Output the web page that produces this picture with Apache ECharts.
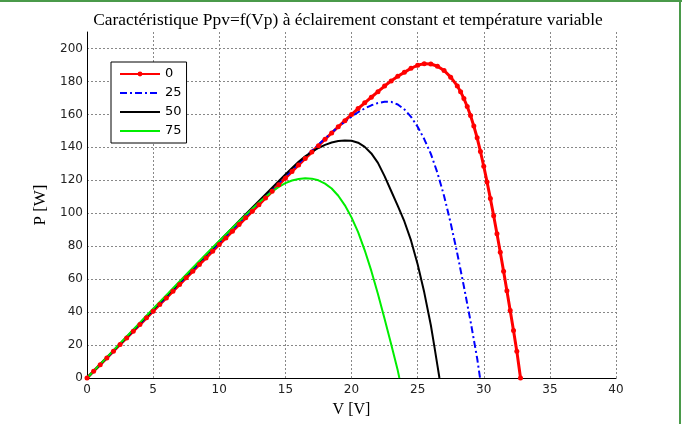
<!DOCTYPE html>
<html>
<head>
<meta charset="utf-8">
<script src="https://cdn.jsdelivr.net/npm/echarts@6/dist/echarts.min.js"></script>
<style>
  html, body { margin: 0; padding: 0; background: #fff; }
  #chart { width: 682px; height: 424px; }
</style>
</head>
<body>
<div id="chart"></div>
<script>
// temperature labels for the legend
const temps = ['0', '25', '50', '75'];

// 0 degC curve (red, with markers)
const redV = [0, 0.5, 1, 1.5, 2, 2.5, 3, 3.5, 4, 4.5, 5, 5.5, 6, 6.5, 7, 7.5, 8, 8.5, 9, 9.5,
  10, 10.5, 11, 11.5, 12, 12.5, 13, 13.5, 14, 14.5, 15, 15.5, 16, 16.5, 17, 17.5, 18, 18.5, 19, 19.5,
  20, 20.5, 21, 21.5, 22, 22.5, 23, 23.5, 24, 24.5, 25, 25.5, 26, 26.5, 27, 27.5, 28,
  28.25, 28.5, 28.75, 29, 29.25, 29.5, 29.75, 30, 30.25, 30.5, 30.75, 31, 31.25, 31.5, 31.75, 32, 32.25, 32.5, 32.78];
const redP = [0, 4.1, 8.1, 12.2, 16.2, 20.3, 24.3, 28.4, 32.4, 36.5, 40.5, 44.6, 48.6, 52.7, 56.7, 60.8, 64.8, 68.9, 72.9, 77.0,
  81.0, 85.0, 89.1, 93.1, 97.2, 101.2, 105.2, 109.3, 113.3, 117.3, 121.3, 125.3, 129.3, 133.2, 137.1, 141.0, 144.9, 148.7, 152.5, 156.2,
  159.9, 163.5, 167.0, 170.4, 173.8, 177.2, 180.3, 183.1, 185.5, 188.0, 189.8, 190.8, 190.6, 189.2, 186.6, 182.6, 177.3,
  173.8, 169.6, 164.8, 159.3, 152.9, 145.8, 137.5, 128.5, 119, 109, 98.5, 87.5, 76.3, 64.8, 53, 41, 28.8, 16.3, 0];

// 25 degC curve (blue dash-dot)
const blueV = [0, 1, 2, 3, 4, 5, 6, 7, 8, 9, 10, 11, 12, 13, 14, 15, 16, 17, 18, 19,
  19.5, 20, 20.5, 21, 21.5, 22, 22.5, 23, 23.5, 24, 24.5, 25, 25.5, 26, 26.5, 27, 27.5, 28, 28.5, 29, 29.5, 29.72];
const blueP = [0, 8.2, 16.4, 24.6, 32.8, 41, 49.2, 57.4, 65.6, 73.8, 82, 90.1, 98.2, 106.3, 114.3, 122.3, 130.2, 137.9, 145.4, 152.4,
  155.6, 158.6, 161.3, 163.6, 165.5, 166.9, 167.7, 167.6, 166.0, 163, 158.5, 152.5, 145, 136, 124.5, 110.5, 94, 75.5, 55.5, 34.5, 12, 0];

// 50 degC curve (black)
const blackV = [0, 1, 2, 3, 4, 5, 6, 7, 8, 9, 10, 11, 12, 13, 14, 15, 16,
  16.5, 17, 17.5, 18, 18.5, 19, 19.5, 20, 20.5, 21, 21.5, 22, 22.5, 23, 23.5, 24, 24.5, 25, 25.5, 26, 26.25, 26.5, 26.65];
const blackP = [0, 8.3, 16.6, 24.9, 33.2, 41.5, 49.8, 58.1, 66.4, 74.7, 83, 91.2, 99.4, 107.5, 115.5, 123.5, 131.2,
  134.5, 137.3, 139.6, 141.5, 142.9, 143.8, 144.2, 144.0, 142.8, 140.3, 136.3, 130.6, 122.5, 113.5, 104.5, 95, 83.5, 69, 52, 32, 20, 7.5, 0];

// 75 degC curve (green)
const greenV = [0, 1, 2, 3, 4, 5, 6, 7, 8, 9, 10, 11, 12,
  12.5, 13, 13.5, 14, 14.5, 15, 15.5, 16, 16.5, 17, 17.5, 18, 18.5, 19, 19.5, 20, 20.5, 21, 21.5, 22, 22.5, 23, 23.5, 23.62];
const greenP = [0, 8.4, 16.8, 25.2, 33.6, 42, 50.3, 58.6, 66.9, 75.1, 83.2, 91.2, 99,
  102.8, 106.5, 110, 113.2, 116, 118.3, 119.9, 120.8, 121.2, 121.0, 120, 118, 115, 110.6, 104.8, 97.5, 88.5, 77.5, 65, 51, 36, 20.5, 4.5, 0];

const pairs = (xs, ys) => xs.map((x, i) => [x, ys[i]]);

const chart = echarts.init(document.getElementById('chart'), null, { renderer: 'canvas' });

const axisFont = { fontFamily: 'DejaVu Sans', fontSize: 12, color: '#222' };
const gridLine = { show: true, lineStyle: { color: '#888', width: 1, type: [2, 2] } };

const option = {
  animation: false,
  backgroundColor: '#fff',
  title: {
    text: 'Caractéristique Ppv=f(Vp) à éclairement constant et température variable',
    left: 343,
    textAlign: 'center',
    top: 7,
    textStyle: { fontFamily: 'Liberation Serif', fontSize: 17.4, fontWeight: 'normal', color: '#000' }
  },
  grid: { left: 87, right: 66, top: 32, bottom: 46, outerBoundsMode: 'none' },
  legend: {
    orient: 'vertical',
    left: 111,
    top: 62,
    // only the 0 degC entry keeps its marker
    data: [
      { name: temps[0] },
      { name: temps[1], itemStyle: { opacity: 0 } },
      { name: temps[2], itemStyle: { opacity: 0 } },
      { name: temps[3], itemStyle: { opacity: 0 } }
    ],
    selectedMode: false,
    backgroundColor: '#fff',
    borderColor: '#000',
    borderWidth: 1,
    borderRadius: 0,
    padding: [5, 5, 5, 8],
    itemWidth: 40,
    itemHeight: 6,
    itemGap: 5,
    textStyle: { fontFamily: 'DejaVu Sans', fontSize: 13, lineHeight: 14, color: '#000' }
  },
  xAxis: {
    type: 'value',
    min: 0, max: 40, interval: 5,
    name: 'V [V]',
    nameLocation: 'middle',
    nameGap: 24,
    nameTextStyle: { fontFamily: 'Liberation Serif', fontSize: 16, color: '#000' },
    axisLine: { lineStyle: { color: '#000', width: 1 } },
    axisTick: { show: false },
    axisLabel: Object.assign({ margin: 6 }, axisFont),
    splitLine: gridLine
  },
  yAxis: {
    type: 'value',
    min: 0, max: 210, interval: 20,
    name: 'P [W]',
    nameLocation: 'middle',
    nameGap: 29,
    nameTextStyle: { fontFamily: 'Liberation Serif', fontSize: 17, color: '#000' },
    axisLine: { show: true, lineStyle: { color: '#000', width: 1 } },
    axisTick: { show: false },
    axisLabel: Object.assign({ margin: 4, showMaxLabel: false }, axisFont),
    splitLine: Object.assign({ showMaxLine: false }, gridLine)
  },
  series: [
    {
      name: temps[0], type: 'line', data: pairs(redV, redP),
      symbol: 'circle', symbolSize: 5,
      lineStyle: { color: '#ff0000', width: 3 },
      itemStyle: { color: '#ff0000' },
      emphasis: { disabled: true }
    },
    {
      name: temps[1], type: 'line', data: pairs(blueV, blueP),
      symbol: 'none',
      lineStyle: { color: '#0000ff', width: 2, type: [7, 3, 2, 3] },
      itemStyle: { color: '#0000ff' },
      emphasis: { disabled: true }
    },
    {
      name: temps[2], type: 'line', data: pairs(blackV, blackP),
      symbol: 'none',
      lineStyle: { color: '#000000', width: 2 },
      itemStyle: { color: '#000000' },
      emphasis: { disabled: true }
    },
    {
      name: temps[3], type: 'line', data: pairs(greenV, greenP),
      symbol: 'none',
      lineStyle: { color: '#00ee00', width: 2 },
      itemStyle: { color: '#00ee00' },
      emphasis: { disabled: true }
    }
  ],
  graphic: [
    { type: 'rect', shape: { x: 0, y: 0, width: 682, height: 2 }, style: { fill: '#4a9a4a' }, silent: true },
    { type: 'rect', shape: { x: 679, y: 0, width: 2, height: 424 }, style: { fill: '#4a9a4a' }, silent: true }
  ]
};

chart.setOption(option);
</script>
</body>
</html>
